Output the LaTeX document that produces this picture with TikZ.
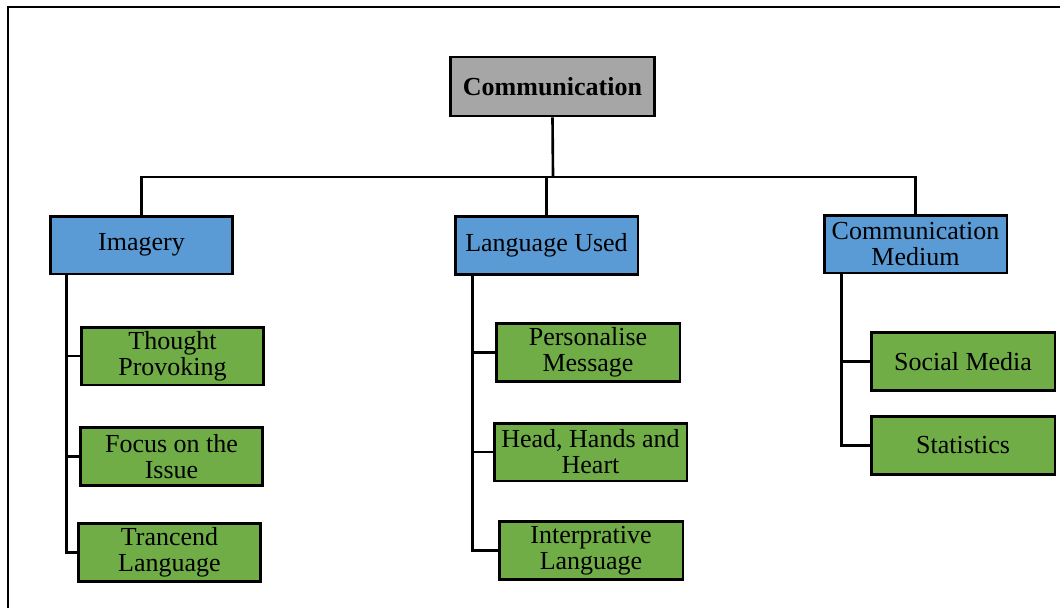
\documentclass[tikz,border=0pt]{standalone}
\usepackage{fontspec}
\setmainfont{Liberation Serif}
\usetikzlibrary{calc}
\definecolor{rootgray}{HTML}{A6A6A6}
\definecolor{topicblue}{HTML}{5B9BD5}
\definecolor{leafgreen}{HTML}{70AD47}
\begin{document}
\begin{tikzpicture}[
x=0.02cm,y=-0.02cm,
font=\fontsize{14.8}{14.8}\selectfont,
box/.style={draw,line width=1.7pt,align=center,inner sep=0pt},
root/.style={box,fill=rootgray,font=\fontsize{14.8}{14.8}\selectfont\bfseries,
  minimum width=4.1cm,minimum height=1.18cm},
topic/.style={box,fill=topicblue,minimum width=3.66cm,minimum height=1.16cm},
leaf/.style={box,fill=leafgreen,minimum width=3.66cm,minimum height=1.16cm},
link/.style={line width=1.5pt},
]
\useasboundingbox (0,0) rectangle (1060,608);
\draw[line width=1.2pt] (8,608) |- (1060,7);

\node[root] (comm) at (552.5,86.5) {Communication};

\node[topic] (img)  at (141.5,245)   {Imagery};
\node[topic] (lang) at (546.5,245.5) {Language Used};
\node[topic] (med)  at (915.5,244)   {Communication\\Medium};

\node[leaf] (thought) at (172.5,356)   {Thought\\Provoking};
\node[leaf] (focus)   at (171.5,456.5) {Focus on the\\Issue};
\node[leaf] (trans)   at (169.5,552.5) {Trancend\\Language};

\node[leaf] (person) at (588,352.5) [minimum width=3.68cm] {Personalise\\Message};
\node[leaf] (head)   at (590.5,452) [minimum width=3.86cm] {Head, Hands and\\Heart};
\node[leaf] (interp) at (591,550.5) [minimum width=3.68cm] {Interprative\\Language};

\node[leaf] (social) at (963,361.5) [minimum width=3.68cm] {Social Media};
\node[leaf] (stats)  at (963,445.5) [minimum width=3.68cm] {Statistics};

% bus under the root
\coordinate (bus) at (553,177);
\draw[link] (comm.south) -- (bus);
\draw[link] (img.north) |- (bus) -| (med.north);
\draw[link] (lang.north) -- (lang.north |- bus);

% trunks down to the leaves
\draw[link] ([xshift=0.36cm]img.south west) |- (trans.west);
\draw[link] ([xshift=0.36cm]img.south west |- thought.west) -- (thought.west);
\draw[link] ([xshift=0.36cm]img.south west |- focus.west) -- (focus.west);

\draw[link] ([xshift=0.38cm]lang.south west) |- (interp.west);
\draw[link] ([xshift=0.38cm]lang.south west |- person.west) -- (person.west);
\draw[link] ([xshift=0.38cm]lang.south west |- head.west) -- (head.west);

\draw[link] ([xshift=0.38cm]med.south west) |- (stats.west);
\draw[link] ([xshift=0.38cm]med.south west |- social.west) -- (social.west);
\end{tikzpicture}
\end{document}
